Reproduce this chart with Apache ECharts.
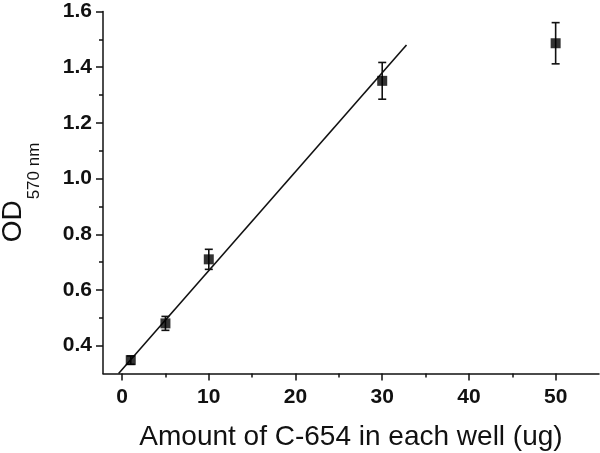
<!DOCTYPE html>
<html>
<head>
<meta charset="utf-8">
<script src="https://cdn.jsdelivr.net/npm/echarts@6/dist/echarts.min.js"></script>
<style>
  html, body { margin: 0; padding: 0; background: #fff; }
  #chart { width: 600px; height: 453px; }
</style>
</head>
<body>
<div id="chart"></div>
<script>
// amount of C-654 (ug) and measured OD570
const amounts = [1, 5, 10, 30, 50];
const odValues = [0.348, 0.48, 0.71, 1.351, 1.486];
const odErrors = [0.015, 0.025, 0.036, 0.066, 0.074];
// fitted line at its two ends
const fitX = [-0.4, 32.8];
const fitY = [0.3, 1.48];
// ticks
const xMajorTicks = [0, 10, 20, 30, 40, 50];
const xMinorTicks = [5, 15, 25, 35, 45];
const yMajorTicks = [0.4, 0.6, 0.8, 1.0, 1.2, 1.4, 1.6];
const yMinorTicks = [0.5, 0.7, 0.9, 1.1, 1.3, 1.5];

const font = "'Liberation Sans', Arial, sans-serif";
const ink = "#111";

const chart = echarts.init(document.getElementById("chart"), null, { renderer: "canvas" });

const xBase = {
  type: "value",
  min: -2.2,
  max: 55,
  position: "bottom",
  splitLine: { show: false },
};
const yBase = {
  type: "value",
  min: 0.3,
  max: 1.6,
  position: "left",
  splitLine: { show: false },
};

chart.setOption({
  animation: false,
  grid: {
    left: 103,
    right: 1,
    top: 11.5,
    bottom: 79.5,
    containLabel: false,
    outerBoundsMode: "none",
  },
  xAxis: [
    Object.assign({}, xBase, {
      name: "Amount of C-654 in each well (ug)",
      nameLocation: "middle",
      nameGap: 50,
      nameTextStyle: { fontFamily: font, fontSize: 28, color: ink },
      axisLine: { onZero: false, lineStyle: { color: ink, width: 1.5 } },
      axisTick: { customValues: xMajorTicks, length: 7, lineStyle: { color: ink, width: 1.5 } },
      axisLabel: {
        customValues: xMajorTicks,
        margin: 13,
        fontFamily: font,
        fontSize: 21,
        fontWeight: "bold",
        color: ink,
        formatter: (v) => String(v),
      },
    }),
    Object.assign({}, xBase, {
      axisLine: { show: false, onZero: false },
      axisTick: { customValues: xMinorTicks, length: 4, lineStyle: { color: ink, width: 1.5 } },
      axisLabel: { show: false },
    }),
  ],
  yAxis: [
    Object.assign({}, yBase, {
      name: "{od|OD}{sub|570 nm}",
      nameLocation: "middle",
      nameRotate: 90,
      nameGap: 74,
      nameTextStyle: {
        fontFamily: font,
        color: ink,
        rich: {
          od: { fontFamily: font, fontSize: 28, lineHeight: 30, verticalAlign: "top", color: ink },
          sub: { fontFamily: font, fontSize: 17, lineHeight: 17, verticalAlign: "top", padding: [27, 0, 0, 1], color: ink },
        },
      },
      axisLine: { onZero: false, lineStyle: { color: ink, width: 1.5 } },
      axisTick: { customValues: yMajorTicks, length: 7, lineStyle: { color: ink, width: 1.5 } },
      axisLabel: {
        customValues: yMajorTicks,
        margin: 11,
        fontFamily: font,
        fontSize: 21,
        fontWeight: "bold",
        color: ink,
        formatter: (v) => v.toFixed(1),
      },
    }),
    Object.assign({}, yBase, {
      axisLine: { show: false, onZero: false },
      axisTick: { customValues: yMinorTicks, length: 4, lineStyle: { color: ink, width: 1.5 } },
      axisLabel: { show: false },
    }),
  ],
  series: [
    {
      name: "fit",
      type: "line",
      xAxisIndex: 0,
      yAxisIndex: 0,
      data: fitX.map((x, i) => [x, fitY[i]]),
      showSymbol: false,
      symbol: "none",
      lineStyle: { color: ink, width: 1.6 },
      z: 2,
    },
    {
      name: "error",
      type: "custom",
      xAxisIndex: 0,
      yAxisIndex: 0,
      data: amounts.map((x, i) => [x, odValues[i] - odErrors[i], odValues[i] + odErrors[i]]),
      renderItem: (params, api) => {
        const lo = api.coord([api.value(0), api.value(1)]);
        const hi = api.coord([api.value(0), api.value(2)]);
        const half = 4;
        const style = { stroke: ink, lineWidth: 1.6 };
        return {
          type: "group",
          children: [
            { type: "line", shape: { x1: lo[0], y1: lo[1], x2: hi[0], y2: hi[1] }, style },
            { type: "line", shape: { x1: lo[0] - half, y1: lo[1], x2: lo[0] + half, y2: lo[1] }, style },
            { type: "line", shape: { x1: hi[0] - half, y1: hi[1], x2: hi[0] + half, y2: hi[1] }, style },
          ],
        };
      },
      z: 3,
    },
    {
      name: "OD",
      type: "scatter",
      xAxisIndex: 0,
      yAxisIndex: 0,
      data: amounts.map((x, i) => [x, odValues[i]]),
      symbol: "rect",
      symbolSize: 10,
      itemStyle: { color: "#000" },
      z: 4,
    },
  ],
});
</script>
</body>
</html>
